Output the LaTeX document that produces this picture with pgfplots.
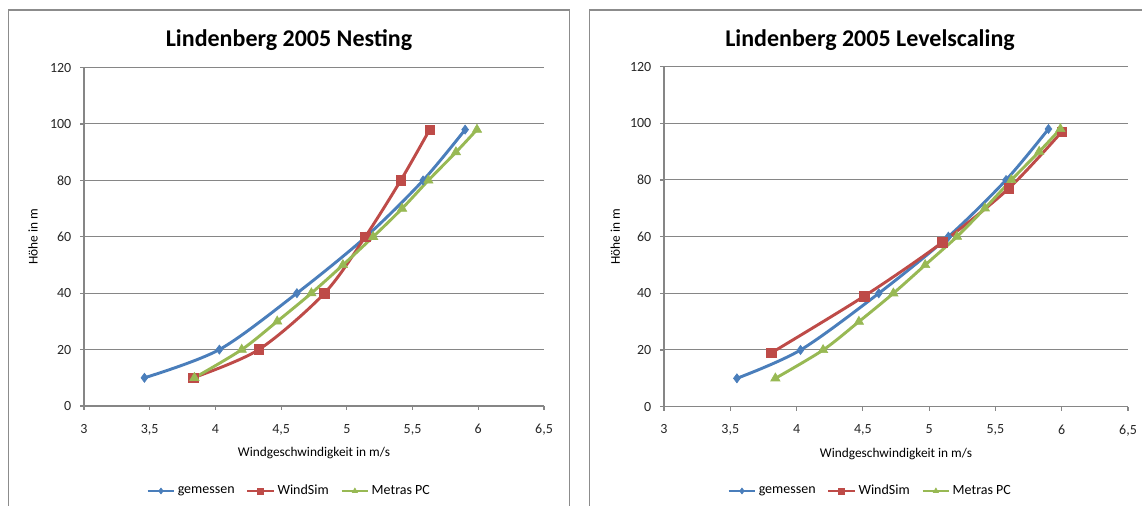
\documentclass[border=0pt]{standalone}
\usepackage{fontspec}
\setmainfont{Carlito}
\usepackage{pgfplots}
\pgfplotsset{compat=1.18}

\definecolor{gemBlue}{RGB}{74,126,187}
\definecolor{simRed}{RGB}{190,75,72}
\definecolor{metGreen}{RGB}{152,185,84}
\definecolor{axGray}{RGB}{134,134,134}
\definecolor{frameGray}{RGB}{140,140,140}

\pgfplotsset{
  profile/.style={
    scale only axis,
    xmin=3, xmax=6.5, ymin=0, ymax=120,
    axis x line*=bottom, axis y line*=left,
    axis line style={axGray, line width=0.8pt},
    xtick={3,3.5,4,4.5,5,5.5,6,6.5},
    xticklabels={3,{3,5},4,{4,5},5,{5,5},6,{6,5}},
    ytick={0,20,40,60,80,100,120},
    yticklabels={0,20,40,60,80,100,120},
    tick align=outside, major tick length=3pt,
    tick style={axGray, line width=0.8pt},
    ymajorgrids, grid style={axGray, line width=0.75pt},
    ticklabel style={font=\fontsize{10.5}{12}\selectfont, text=black!85},
    xticklabel style={yshift=-7pt},
    yticklabel style={xshift=-3pt},
    xlabel={Windgeschwindigkeit in m/s},
    ylabel={Höhe in m},
    label style={font=\fontsize{10.5}{12}\selectfont, text=black!85},
    every axis x label/.style={at={(axis description cs:0.5,-0.139)}, anchor=center},
    legend columns=3,
    legend style={draw=none, fill=none, font=\fontsize{10.5}{12}\selectfont,
      anchor=center, /tikz/every even column/.append style={column sep=7pt},
      inner sep=0pt, nodes={inner xsep=1.5pt}},
    legend image code/.code={
      \draw[mark repeat=2, mark phase=2, mark size=2.2pt]
        plot coordinates {(0pt,0pt) (10pt,0pt) (20pt,0pt)};
    },
    clip=false,
  },
  gem/.style={gemBlue, line width=2.2pt, smooth, mark=diamond*, mark size=3.4pt,
    mark options={solid, line width=0.5pt}},
  sim/.style={simRed, line width=2.2pt, smooth, mark=square*, mark size=3.6pt,
    mark options={solid, line width=0.5pt}},
  met/.style={metGreen, line width=2.2pt, smooth, mark=triangle*, mark size=4pt,
    mark options={solid, line width=0.5pt}},
}

\begin{document}
\begin{tikzpicture}
\path[use as bounding box] (0pt,0pt) rectangle (856.5pt,379.5pt);
\begin{scope}
\clip (0pt,0pt) rectangle (856.5pt,379.5pt);

% chart frames
\draw[frameGray, line width=0.8pt] (6.4pt,-10pt) rectangle (426.8pt,372pt);
\draw[frameGray, line width=0.8pt] (441.8pt,-10pt) rectangle (863pt,372pt);

% Nesting
\begin{axis}[profile,
  at={(63pt,75pt)}, anchor=south west,
  width=345pt, height=253.8pt,
  title={Lindenberg 2005 Nesting},
  title style={at={(axis description cs:0.4457,1.0618)}, anchor=base, yshift=-6pt,
    font=\fontsize{18}{21}\bfseries\selectfont},
  every axis y label/.style={at={(axis description cs:-0.111,0.5)}, rotate=90, anchor=center},
  legend style={at={(axis description cs:0.4457,-0.2512)}},
]
\addplot[gem] coordinates {(3.46,10) (4.03,20) (4.62,40) (5.145,60) (5.58,80) (5.90,98)};
\addlegendentry{gemessen}
\addplot[sim] coordinates {(3.83,10) (4.33,20) (4.83,40) (5.14,60) (5.41,80) (5.63,98)};
\addlegendentry{WindSim}
\addplot[met] coordinates {(3.84,10) (4.20,20) (4.47,30) (4.73,40) (4.97,50) (5.20,60) (5.42,70) (5.62,80) (5.83,90) (5.99,98)};
\addlegendentry{Metras PC}
\end{axis}

% Levelscaling
\begin{axis}[profile,
  at={(498pt,74.5pt)}, anchor=south west,
  width=348pt, height=255pt,
  title={Lindenberg 2005 Levelscaling},
  title style={at={(axis description cs:0.444,1.0588)}, anchor=base, yshift=-6pt,
    font=\fontsize{18}{21}\bfseries\selectfont},
  every axis y label/.style={at={(axis description cs:-0.105,0.5)}, rotate=90, anchor=center},
  legend style={at={(axis description cs:0.444,-0.248)}},
]
\addplot[gem] coordinates {(3.55,10) (4.03,20) (4.62,40) (5.145,60) (5.58,80) (5.90,98)};
\addlegendentry{gemessen}
\addplot[sim] coordinates {(3.81,19) (4.51,39) (5.10,58) (5.60,77) (6.00,97)};
\addlegendentry{WindSim}
\addplot[met] coordinates {(3.84,10) (4.20,20) (4.47,30) (4.73,40) (4.97,50) (5.21,60) (5.42,70) (5.62,80) (5.83,90) (5.99,98)};
\addlegendentry{Metras PC}
\end{axis}
\end{scope}
\end{tikzpicture}
\end{document}
